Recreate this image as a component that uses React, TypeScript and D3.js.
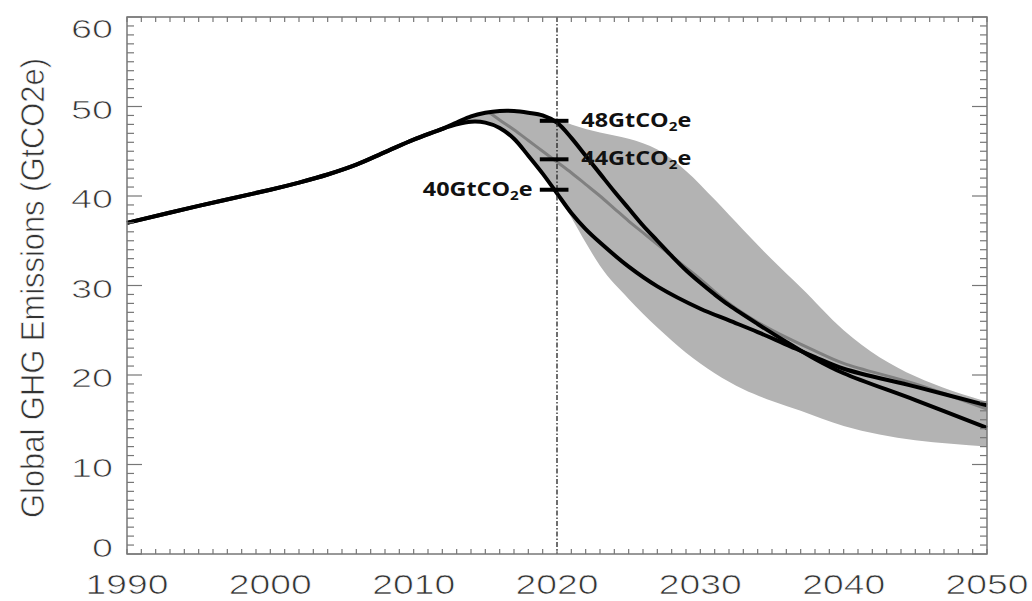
import React from 'react';
import * as d3 from 'd3';

// historical emissions, shared by both pathways
const histYears = [1990, 1995, 2000, 2002, 2004, 2006, 2008, 2010, 2012];
const histValues = [37.0, 38.9, 40.7, 41.5, 42.4, 43.5, 44.9, 46.3, 47.5];

// lower pathway (40 GtCO2e in 2020)
const lowYears = [2013, 2014, 2015, 2016, 2017, 2018, 2019, 2020, 2021, 2022, 2023, 2025, 2027, 2030, 2032, 2034, 2036, 2038, 2040, 2045, 2050];
const lowValues = [48.0, 48.3, 48.2, 47.6, 46.4, 44.5, 42.5, 40.3, 38.1, 36.3, 34.8, 32.1, 29.9, 27.4, 26.1, 24.8, 23.4, 22.0, 20.7, 18.7, 16.6];

// upper pathway (48 GtCO2e in 2020)
const highYears = [2013, 2014, 2015, 2016, 2017, 2018, 2019, 2020, 2021, 2022, 2023, 2024, 2025, 2026, 2027, 2028, 2029, 2030, 2031, 2032, 2034, 2036, 2038, 2040, 2045, 2050];
const highValues = [48.2, 48.9, 49.3, 49.5, 49.5, 49.3, 49.0, 48.2, 46.5, 44.5, 42.5, 40.5, 38.6, 36.7, 35.0, 33.3, 31.7, 30.3, 29.0, 27.8, 25.7, 23.7, 21.8, 20.2, 17.2, 14.1];

// median pathway (grey, 44 GtCO2e in 2020)
const medYears = [2015.3, 2016, 2017, 2018, 2019, 2020, 2021, 2022, 2023, 2024, 2025, 2026, 2027, 2028, 2029, 2030, 2032, 2034, 2036, 2038, 2040, 2045, 2050];
const medValues = [49.3, 48.5, 47.4, 46.2, 45.0, 43.8, 42.6, 41.3, 40.0, 38.6, 37.2, 35.9, 34.6, 33.3, 32.0, 30.7, 28.0, 25.9, 24.2, 22.7, 21.3, 19.0, 16.2];

// shaded range
const bandYears = [2013.5, 2014, 2015, 2016, 2017, 2018, 2019, 2020, 2021, 2022, 2023, 2025, 2027, 2029, 2031, 2033, 2035, 2037, 2040, 2050];
const bandHigh = [48.2, 48.8, 49.3, 49.5, 49.5, 49.3, 49.0, 48.6, 48.0, 47.5, 47.1, 46.4, 45.2, 42.8, 39.6, 36.2, 32.9, 29.8, 25.0, 17.0];
const bandLow = [48.2, 48.2, 48.1, 47.5, 46.3, 44.4, 42.4, 40.2, 37.6, 34.8, 32.2, 28.5, 25.3, 22.5, 20.2, 18.4, 17.1, 16.0, 14.3, 12.0];

// 2020 level markers
const markerValues = [48.4, 44.1, 40.7];
const markerLabels = ['48', '44', '40'];

const xTicks = [1990, 2000, 2010, 2020, 2030, 2040, 2050];
const yTicks = [0, 10, 20, 30, 40, 50, 60];

const width = 1032;
const height = 601;
const margin = { top: 17, right: 45, bottom: 47, left: 127 };

export default function App() {
  const x = d3.scaleLinear().domain([1990, 2050]).range([margin.left, width - margin.right]);
  const y = d3.scaleLinear().domain([0, 60]).range([height - margin.bottom, margin.top]);
  const x0 = x(1990), x1 = x(2050), y0 = y(0), y1 = y(60);

  const line = d3.line<[number, number]>()
    .x(d => x(d[0]))
    .y(d => y(d[1]))
    .curve(d3.curveCatmullRom.alpha(0.5));

  const hist = histYears.map((yr, i) => [yr, histValues[i]] as [number, number]);
  const lowPts = hist.concat(lowYears.map((yr, i) => [yr, lowValues[i]] as [number, number]));
  const highPts = hist.concat(highYears.map((yr, i) => [yr, highValues[i]] as [number, number]));
  const medPts = medYears.map((yr, i) => [yr, medValues[i]] as [number, number]);

  const area = d3.area<number>()
    .x(i => x(bandYears[i]))
    .y0(i => y(bandLow[i]))
    .y1(i => y(bandHigh[i]))
    .curve(d3.curveMonotoneX);

  const minorX = d3.range(1990, 2051, 1);
  const minorY = d3.range(0, 61, 1);
  const axisColor = '#777';
  const font = '"Liberation Sans", Arial, sans-serif';
  const thin = { stroke: '#fff', strokeWidth: 0.7 };

  return (
    <svg width={width} height={height} style={{ position: 'absolute', left: 0, top: 0, background: '#fff' }}>
      <path d={area(d3.range(bandYears.length)) || ''} fill="#b3b3b3" />
      <path d={line(medPts) || ''} fill="none" stroke="#808080" strokeWidth={3} />
      <path d={line(lowPts) || ''} fill="none" stroke="#000" strokeWidth={4} strokeLinejoin="round" />
      <path d={line(highPts) || ''} fill="none" stroke="#000" strokeWidth={4} strokeLinejoin="round" />

      <line x1={x(2020)} x2={x(2020)} y1={y1} y2={y0} stroke="#222" strokeWidth={1.3} strokeDasharray="5,2,1.5,2" />

      {markerValues.map((v, i) => (
        <g key={i}>
          <line x1={x(2018.8)} x2={x(2020.8)} y1={y(v)} y2={y(v)} stroke="#000" strokeWidth={4} />
          <text
            transform={i < 2
              ? `translate(${x(2021.7)},${y(v) + 6}) scale(1.17,1)`
              : `translate(${x(2018.3)},${y(v) + 6}) scale(1.17,1)`}
            textAnchor={i < 2 ? 'start' : 'end'}
            fontFamily='"Open Sans", sans-serif'
            fontWeight="bold"
            fontSize={20}
            fill="#111"
          >
            {markerLabels[i]}GtCO<tspan fontSize={13} dy={4}>2</tspan><tspan dy={-4}>e</tspan>
          </text>
        </g>
      ))}

      {/* frame and ticks */}
      <rect x={x0} y={y1} width={x1 - x0} height={y0 - y1} fill="none" stroke={axisColor} strokeWidth={1.5} />
      {minorX.map(t => (
        <g key={'x' + t}>
          <line x1={x(t)} x2={x(t)} y1={y0} y2={y0 - 5} stroke={axisColor} strokeWidth={1.2} />
          <line x1={x(t)} x2={x(t)} y1={y1} y2={y1 + 5} stroke={axisColor} strokeWidth={1.2} />
        </g>
      ))}
      {minorY.map(t => {
        const len = t % 10 === 0 ? 15 : 7;
        return (
          <g key={'y' + t}>
            <line x1={x0} x2={x0 + len} y1={y(t)} y2={y(t)} stroke={axisColor} strokeWidth={1.2} />
            <line x1={x1} x2={x1 - len} y1={y(t)} y2={y(t)} stroke={axisColor} strokeWidth={1.2} />
          </g>
        );
      })}

      {xTicks.map(t => (
        <text key={'xl' + t} x={x(t)} y={594} textAnchor="middle" fontFamily={font} fontSize={28}
          textLength={83} lengthAdjust="spacingAndGlyphs" fill="#333" {...thin}>{t}</text>
      ))}
      {yTicks.map(t => {
        const ty = Math.min(Math.max(y(t) + 3, y1 + 11.5), y0 - 6);
        const label = String(t);
        return (
          <text key={'yl' + t} x={113} y={ty} textAnchor="end" dominantBaseline="central" fontFamily={font}
            fontSize={26} textLength={21 * label.length} lengthAdjust="spacingAndGlyphs" fill="#333" {...thin}>{label}</text>
        );
      })}

      <text transform={`translate(44,${288}) rotate(-90)`} textAnchor="middle" fontFamily={font} fontSize={33}
        textLength={460} lengthAdjust="spacingAndGlyphs" fill="#333" {...thin}>Global GHG Emissions (GtCO2e)</text>
    </svg>
  );
}
